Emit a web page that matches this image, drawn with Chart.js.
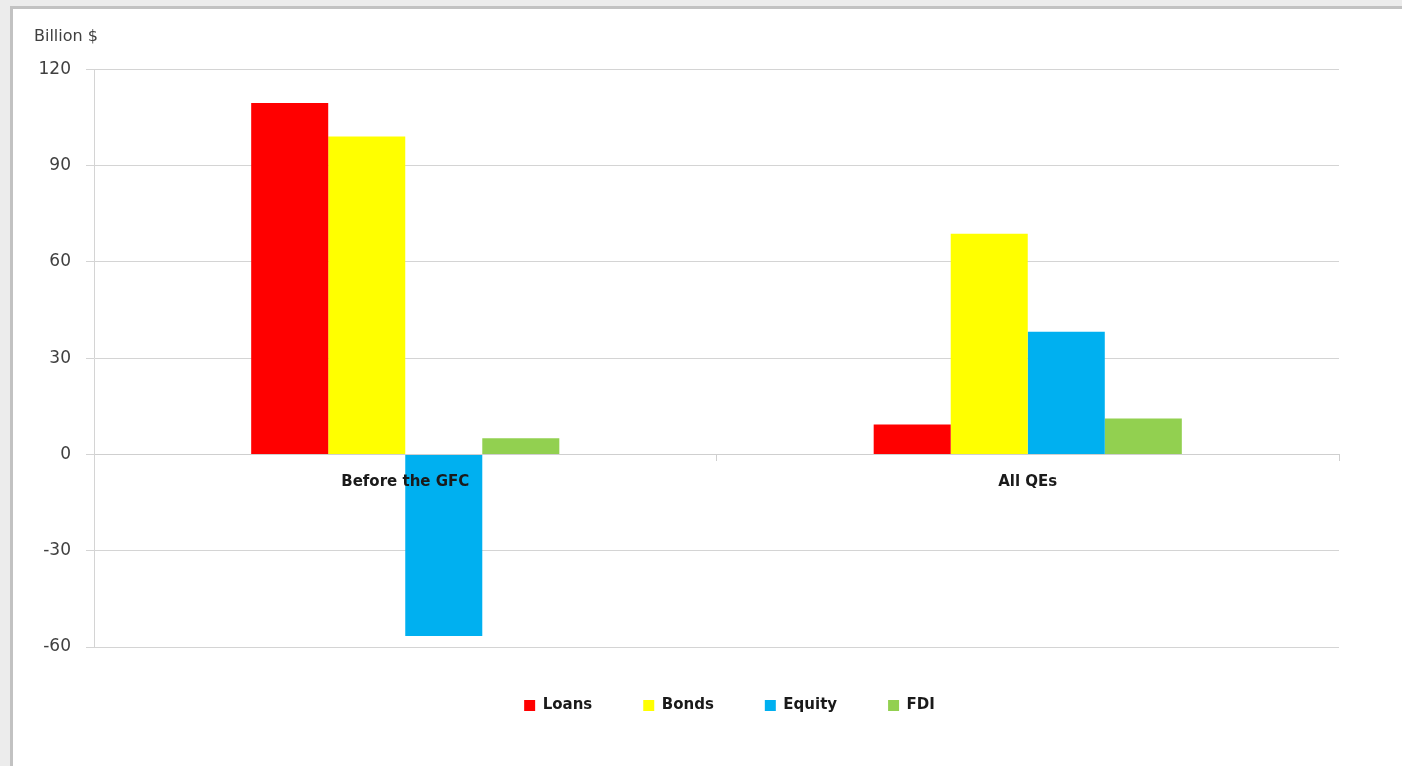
<!DOCTYPE html>
<html>
<head>
<meta charset="utf-8">
<script src="https://cdn.jsdelivr.net/npm/chart.js@4/dist/chart.umd.min.js"></script>
<style>
  html, body { margin: 0; padding: 0; background: #ececec; overflow: hidden; }
  #frame { position: absolute; left: 10px; top: 6px; width: 1500px; height: 900px;
           background: #fff; border: 3px solid #c2c2c2; }
  #wrap { position: absolute; left: 0; top: 0; width: 1402px; height: 766px; }
</style>
</head>
<body>
<div id="frame"></div>
<div id="wrap"><canvas id="chart"></canvas></div>
<script>
// chart data
const categories = ['Before the GFC', 'All QEs'];
const loans = [109.5, 9.3];
const bonds = [99, 68.7];
const equity = [-56.6, 38.2];
const fdi = [5, 11.2];
const yMin = -60, yMax = 120, yStep = 30;

const font = "'DejaVu Sans', sans-serif";

// legend sits centred under the plot, not the whole canvas
const legendShift = {
  id: 'legendShift',
  afterLayout: function(chart) {
    chart.legend.left += 43;
    chart.legend.right += 43;
  }
};

document.addEventListener('DOMContentLoaded', function() {
  const ctx = document.getElementById('chart').getContext('2d');

  const chart = new Chart(ctx, {
    type: 'bar',
    data: {
      labels: categories,
      datasets: [
        { label: 'Loans', data: loans, backgroundColor: '#ff0000' },
        { label: 'Bonds', data: bonds, backgroundColor: '#ffff00' },
        { label: 'Equity', data: equity, backgroundColor: '#00b0f0' },
        { label: 'FDI', data: fdi, backgroundColor: '#92d050' }
      ]
    },
    plugins: [legendShift],
    options: {
      responsive: true,
      maintainAspectRatio: false,
      animation: false,
      datasets: {
        bar: { categoryPercentage: 0.495, barPercentage: 1.0 }
      },
      layout: {
        padding: { left: 34, right: 63, top: 22, bottom: 43 }
      },
      scales: {
        x: {
          position: { y: 0 },
          grid: {
            drawOnChartArea: false,
            drawTicks: true,
            tickLength: 6,
            offset: true,
            color: '#cfcfcf'
          },
          border: { display: true, color: '#cfcfcf', width: 1 },
          ticks: {
            z: 1, // labels over the bars
            color: '#1a1a1a',
            padding: 13,
            font: { family: font, size: 15, weight: 'bold' }
          }
        },
        y: {
          min: yMin,
          max: yMax,
          afterFit: function(scale) { scale.width = 60; },
          grid: {
            color: '#d4d4d4',
            tickLength: 8
          },
          border: { display: true, color: '#d4d4d4' },
          ticks: {
            stepSize: yStep,
            color: '#404040',
            padding: 15,
            font: { family: font, size: 17 }
          }
        }
      },
      plugins: {
        title: {
          display: true,
          text: 'Billion $',
          align: 'start',
          color: '#404040',
          padding: { top: 5, bottom: 23 },
          font: { family: font, size: 16, weight: 'normal' }
        },
        legend: {
          display: true,
          position: 'bottom',
          labels: {
            boxWidth: 11,
            boxHeight: 11,
            padding: 51,
            color: '#1a1a1a',
            font: { family: font, size: 15, weight: 'bold' }
          }
        },
        tooltip: { enabled: false }
      }
    }
  });
});
</script>
</body>
</html>
